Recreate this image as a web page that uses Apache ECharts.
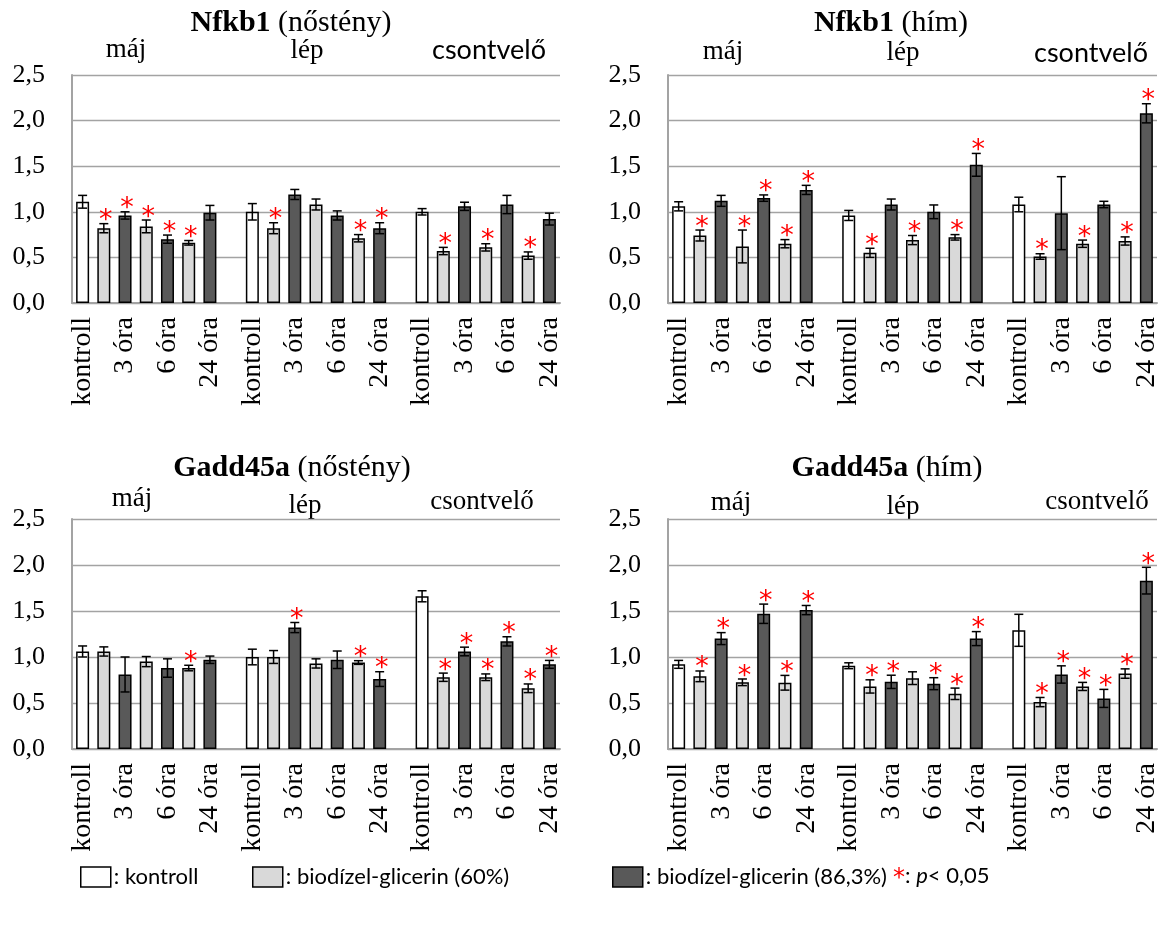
<!DOCTYPE html>
<html lang="hu">
<head>
<meta charset="UTF-8">
<title>Nfkb1 / Gadd45a</title>
<style>
    html,body{margin:0;padding:0;background:#fff;}
    #chart{width:1164px;height:937px;}
</style>
</head>
<body>
<div id="chart"></div>
<script src="https://cdn.jsdelivr.net/npm/echarts@6/dist/echarts.min.js"></script>
<script>
// szervek, oszlopok
const organs = ['máj', 'lép', 'csontvelő'];
const timeLabels = ['kontroll', '', '3 óra', '', '6 óra', '', '24 óra'];
// 0 = kontroll, 1 = 60%, 2 = 86,3%
const barKind = [0, 1, 2, 1, 2, 1, 2];
const seriesNames = ['kontroll', 'biodízel-glicerin (60%)', 'biodízel-glicerin (86,3%)'];

// Nfkb1 (nőstény)
const nfkbF_mean = [
    [1.11, 0.82, 0.96, 0.84, 0.70, 0.66, 0.99],
    [1.00, 0.82, 1.19, 1.08, 0.96, 0.71, 0.82],
    [1.00, 0.57, 1.06, 0.61, 1.08, 0.52, 0.92]
];
const nfkbF_err = [
    [0.07, 0.05, 0.04, 0.07, 0.045, 0.025, 0.08],
    [0.09, 0.06, 0.055, 0.06, 0.05, 0.04, 0.06],
    [0.035, 0.04, 0.045, 0.04, 0.10, 0.04, 0.065]
];
const nfkbF_sig = [
    [0, 1, 1, 1, 1, 1, 0],
    [0, 1, 0, 0, 0, 1, 1],
    [0, 1, 0, 1, 0, 1, 0]
];

// Nfkb1 (hím)
const nfkbM_mean = [
    [1.06, 0.74, 1.12, 0.62, 1.15, 0.65, 1.24],
    [0.96, 0.55, 1.08, 0.69, 1.00, 0.72, 1.515],
    [1.08, 0.51, 0.985, 0.65, 1.08, 0.68, 2.08]
];
const nfkbM_err = [
    [0.05, 0.06, 0.06, 0.18, 0.035, 0.045, 0.05],
    [0.055, 0.05, 0.06, 0.05, 0.075, 0.03, 0.125],
    [0.08, 0.03, 0.40, 0.04, 0.035, 0.045, 0.105]
];
const nfkbM_sig = [
    [0, 1, 0, 1, 1, 1, 1],
    [0, 1, 0, 1, 0, 1, 1],
    [0, 1, 0, 1, 0, 1, 1]
];

// Gadd45a (nőstény)
const gaddF_mean = [
    [1.06, 1.06, 0.81, 0.95, 0.88, 0.88, 0.97],
    [1.00, 1.00, 1.32, 0.93, 0.97, 0.94, 0.76],
    [1.66, 0.78, 1.06, 0.78, 1.17, 0.66, 0.92]
];
const gaddF_err = [
    [0.06, 0.05, 0.19, 0.055, 0.10, 0.03, 0.04],
    [0.085, 0.07, 0.055, 0.05, 0.095, 0.02, 0.08],
    [0.06, 0.045, 0.047, 0.036, 0.05, 0.047, 0.043]
];
const gaddF_sig = [
    [0, 0, 0, 0, 0, 1, 0],
    [0, 0, 1, 0, 0, 1, 1],
    [0, 1, 1, 1, 1, 1, 1]
];

// Gadd45a (hím)
const gaddM_mean = [
    [0.92, 0.79, 1.20, 0.725, 1.47, 0.72, 1.51],
    [0.905, 0.68, 0.73, 0.77, 0.71, 0.60, 1.20],
    [1.29, 0.51, 0.81, 0.68, 0.55, 0.82, 1.83]
];
const gaddM_err = [
    [0.043, 0.058, 0.065, 0.036, 0.105, 0.08, 0.05],
    [0.032, 0.072, 0.072, 0.069, 0.065, 0.062, 0.076],
    [0.174, 0.05, 0.094, 0.044, 0.098, 0.051, 0.145]
];
const gaddM_sig = [
    [0, 1, 1, 1, 1, 1, 1],
    [0, 1, 1, 0, 1, 1, 1],
    [0, 1, 1, 1, 1, 1, 1]
];

const SERIF = 'Liberation Serif';
const SANS = 'Lato';
const colors = ['#ffffff', '#d9d9d9', '#595959'];
const gray = '#a3a3a3';

const panels = [
    {gene: 'Nfkb1', sex: '(nőstény)', mean: nfkbF_mean, err: nfkbF_err, sig: nfkbF_sig,
        grid: {left: 72, top: 75, width: 488, height: 228}, titleX: 291, titleY: 23,
        lab: [[126, 50, SERIF], [307, 51, SERIF], [489, 50, SANS]]},
    {gene: 'Nfkb1', sex: '(hím)', mean: nfkbM_mean, err: nfkbM_err, sig: nfkbM_sig,
        grid: {left: 668, top: 75, width: 489, height: 228}, titleX: 891, titleY: 23,
        lab: [[723, 52, SERIF], [903, 53, SERIF], [1091, 53, SANS]]},
    {gene: 'Gadd45a', sex: '(nőstény)', mean: gaddF_mean, err: gaddF_err, sig: gaddF_sig,
        grid: {left: 72, top: 519, width: 488, height: 230}, titleX: 292, titleY: 468,
        lab: [[132, 499, SERIF], [305, 506, SERIF], [482, 502, SERIF]]},
    {gene: 'Gadd45a', sex: '(hím)', mean: gaddM_mean, err: gaddM_err, sig: gaddM_sig,
        grid: {left: 668, top: 519, width: 489, height: 230}, titleX: 887, titleY: 468,
        lab: [[731, 503, SERIF], [903, 507, SERIF], [1097, 502, SERIF]]}
];

// kategóriák: 7 oszlop szervenként, köztük egy üres hely
const cats = [], tickText = [];
organs.forEach(function (o, g) {
    timeLabels.forEach(function (t, k) {
        cats.push(o + '-' + k);
        tickText.push(t);
    });
    if (g < organs.length - 1) {
        cats.push('gap-' + g);
        tickText.push('');
    }
});

function errItem(params, api) {
    const x = api.value(0), m = api.value(1), e = api.value(2);
    const top = api.coord([x, m + e]);
    const bot = api.coord([x, m - e]);
    const h = 4.5;
    const st = {stroke: '#000', lineWidth: 1.5};
    return {
        type: 'group',
        children: [
            {type: 'line', shape: {x1: top[0], y1: top[1], x2: bot[0], y2: bot[1]}, style: st},
            {type: 'line', shape: {x1: top[0] - h, y1: top[1], x2: top[0] + h, y2: top[1]}, style: st},
            {type: 'line', shape: {x1: bot[0] - h, y1: bot[1], x2: bot[0] + h, y2: bot[1]}, style: st}
        ]
    };
}

function starItem(params, api) {
    const p = api.coord([api.value(0), api.value(1)]);
    return {
        type: 'text',
        x: p[0] + 2,
        y: p[1] + 11,
        style: {text: '*', fill: '#ff0000', font: '27px "DejaVu Sans"', align: 'center', verticalAlign: 'bottom'}
    };
}

const grids = [], xAxes = [], yAxes = [], series = [], graphics = [];

panels.forEach(function (p, i) {
    grids.push(p.grid);
    xAxes.push({
        type: 'category', gridIndex: i, data: cats,
        axisTick: {show: false},
        axisLine: {lineStyle: {color: gray, width: 2}},
        axisLabel: {
            interval: 0, rotate: 90, margin: 14, color: '#000',
            fontFamily: SERIF, fontSize: 28,
            formatter: function (v, idx) { return tickText[idx]; }
        }
    });
    yAxes.push({
        type: 'value', gridIndex: i, min: 0, max: 2.5, interval: 0.5,
        axisLine: {show: true, lineStyle: {color: gray, width: 2}},
        axisTick: {show: false},
        splitLine: {lineStyle: {color: gray, width: 1.3}},
        axisLabel: {
            margin: 27, color: '#000', fontFamily: SERIF, fontSize: 26,
            formatter: function (v) { return v.toFixed(1).replace('.', ','); }
        }
    });

    const bars = [[], [], []], errs = [], stars = [];
    let idx = 0;
    p.mean.forEach(function (row, g) {
        row.forEach(function (v, k) {
            for (let s = 0; s < 3; s++) bars[s][idx] = (barKind[k] === s) ? v : null;
            errs.push([idx, v, p.err[g][k]]);
            if (p.sig[g][k]) stars.push([idx, v + p.err[g][k]]);
            idx++;
        });
        if (g < p.mean.length - 1) {
            for (let s = 0; s < 3; s++) bars[s][idx] = null;
            idx++;
        }
    });

    seriesNames.forEach(function (name, s) {
        series.push({
            name: name, type: 'bar', xAxisIndex: i, yAxisIndex: i,
            data: bars[s], barWidth: 13, barGap: '-100%',
            itemStyle: {color: colors[s], borderColor: '#000', borderWidth: 1.5},
            emphasis: {disabled: true}
        });
    });
    series.push({
        type: 'custom', xAxisIndex: i, yAxisIndex: i, z: 5,
        renderItem: errItem, encode: {x: 0, y: 1}, data: errs, silent: true
    });
    series.push({
        type: 'custom', xAxisIndex: i, yAxisIndex: i, z: 6,
        renderItem: starItem, encode: {x: 0, y: 1}, data: stars, silent: true
    });

    graphics.push({
        type: 'text', x: p.titleX, y: p.titleY,
        style: {
            text: '{b|' + p.gene + '}{n| ' + p.sex + '}',
            align: 'center', verticalAlign: 'middle',
            rich: {
                b: {font: 'bold 30px "' + SERIF + '"', fill: '#000'},
                n: {font: '30px "' + SERIF + '"', fill: '#000'}
            }
        }
    });
    organs.forEach(function (o, g) {
        const l = p.lab[g];
        graphics.push({
            type: 'text', x: l[0], y: l[1],
            style: {text: o, font: '27px "' + l[2] + '"', fill: '#000',
                align: 'center', verticalAlign: 'middle'}
        });
    });
});

// jelmagyarázat
graphics.push({
    type: 'text', x: 893, y: 876,
    style: {
        text: '{r|*}{t|: }{i|p}{t|< 0,05}',
        verticalAlign: 'middle',
        rich: {
            r: {font: '24px "DejaVu Sans"', fill: '#ff0000', padding: [6, 0, 0, 0]},
            t: {font: '22px Lato', fill: '#000'},
            i: {font: 'italic 22px Lato', fill: '#000'}
        }
    }
});

const legendLeft = [80, 252, 612];
const legends = seriesNames.map(function (name, s) {
    return {
        left: legendLeft[s], top: 866, padding: 0,
        data: [{name: name, itemStyle: {borderColor: '#000', borderWidth: 1.5}}],
        icon: 'rect', itemWidth: 30, itemHeight: 20,
        selectedMode: false,
        formatter: ': {name}',
        textStyle: {fontFamily: SANS, fontSize: 22, color: '#000', padding: [0, 0, 0, -2]}
    };
});

const chart = echarts.init(document.getElementById('chart'));
chart.setOption({
    animation: false,
    backgroundColor: '#fff',
    grid: grids,
    xAxis: xAxes,
    yAxis: yAxes,
    legend: legends,
    graphic: graphics,
    series: series
});
</script>
</body>
</html>
